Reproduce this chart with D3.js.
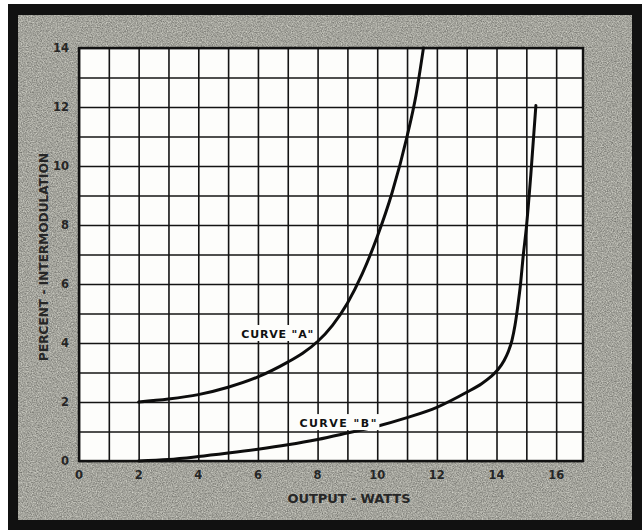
<!DOCTYPE html>
<html>
<head>
<meta charset="utf-8">
<script src="https://cdn.jsdelivr.net/npm/d3@7"></script>
<style>
  html, body { margin: 0; padding: 0; background: #fff; }
  svg { display: block; }
  text { font-family: "DejaVu Sans", sans-serif; font-weight: bold; fill: #262626; }
</style>
</head>
<body>
<div class="vis"></div>
<script>
    // values
    const xTicks = [0, 2, 4, 6, 8, 10, 12, 14, 16];
    const yTicks = [0, 2, 4, 6, 8, 10, 12, 14];

    const curveAx = [2, 3, 4, 5, 6, 7, 7.5, 8, 8.5, 9, 9.5, 10, 10.5, 11, 11.3, 11.55];
    const curveAy = [2.0, 2.1, 2.25, 2.5, 2.85, 3.35, 3.65, 4.05, 4.6, 5.35, 6.35, 7.6, 9.1, 11.0, 12.4, 14.0];

    const curveBx = [2, 3, 4, 5, 6, 7, 8, 9, 10, 11, 12, 13, 13.5, 13.8, 14.05, 14.25, 14.4, 14.52, 14.62, 14.72, 14.8, 14.9, 15.0, 15.15, 15.32];
    const curveBy = [0, 0.05, 0.15, 0.27, 0.4, 0.55, 0.73, 0.95, 1.18, 1.47, 1.82, 2.33, 2.62, 2.85, 3.1, 3.4, 3.72, 4.1, 4.6, 5.3, 5.95, 7.0, 7.9, 9.7, 12.05];

    const dimensions = {
        width: 642,
        height: 530,
        plot: { left: 79, right: 583, top: 48, bottom: 461 }
    };

    const svg = d3.select(".vis").append("svg")
        .attr("width", dimensions.width)
        .attr("height", dimensions.height);

    // paper grain, limited to the grey card
    const card = { x: 18, y: 15, w: 614, h: 505 };
    const defs = svg.append("defs");
    const grain = defs.append("filter")
        .attr("id", "grain")
        .attr("filterUnits", "userSpaceOnUse")
        .attr("color-interpolation-filters", "sRGB")
        .attr("x", card.x).attr("y", card.y)
        .attr("width", card.w).attr("height", card.h);
    grain.append("feTurbulence")
        .attr("type", "fractalNoise")
        .attr("baseFrequency", 0.8)
        .attr("numOctaves", 2)
        .attr("seed", 7);
    grain.append("feColorMatrix")
        .attr("type", "matrix")
        .attr("values", "0.5 0 0 0 0.39  0.5 0 0 0 0.39  0.48 0 0 0 0.37  0 0 0 0 1");

    svg.append("rect")
        .attr("x", 8).attr("y", 4)
        .attr("width", 634).attr("height", 526)
        .attr("fill", "#111");

    svg.append("rect")
        .attr("x", card.x).attr("y", card.y)
        .attr("width", card.w).attr("height", card.h)
        .attr("fill", "#a7a79f")
        .attr("filter", "url(#grain)");

    const p = dimensions.plot;

    const x = d3.scaleLinear()
        .domain([0, 16.9])
        .range([p.left, p.right]);

    const y = d3.scaleLinear()
        .domain([0, 14])
        .range([p.bottom, p.top]);

    svg.append("rect")
        .attr("x", p.left).attr("y", p.top)
        .attr("width", p.right - p.left).attr("height", p.bottom - p.top)
        .attr("fill", "#fdfdfb");

    // grid, one line per unit
    const gx = svg.append("g")
        .attr("transform", `translate(0,${p.bottom})`)
        .call(d3.axisBottom(x).tickValues(d3.range(0, 17)).tickSize(-(p.bottom - p.top)).tickFormat(""));
    const gy = svg.append("g")
        .attr("transform", `translate(${p.left},0)`)
        .call(d3.axisLeft(y).tickValues(d3.range(0, 15)).tickSize(-(p.right - p.left)).tickFormat(""));
    [gx, gy].forEach(g => {
        g.select(".domain").remove();
        g.selectAll("line").attr("stroke", "#141414").attr("stroke-width", 1.6);
    });

    svg.append("rect")
        .attr("x", p.left).attr("y", p.top)
        .attr("width", p.right - p.left).attr("height", p.bottom - p.top)
        .attr("fill", "none")
        .attr("stroke", "#111")
        .attr("stroke-width", 2.4);

    // tick labels
    svg.append("g").selectAll("text")
        .data(xTicks)
        .enter().append("text")
        .attr("x", d => x(d))
        .attr("y", p.bottom + 18)
        .attr("text-anchor", "middle")
        .style("font-size", "11.5px")
        .text(d => d);

    svg.append("g").selectAll("text")
        .data(yTicks)
        .enter().append("text")
        .attr("x", p.left - 10)
        .attr("y", d => y(d) + 4)
        .attr("text-anchor", "end")
        .style("font-size", "11.5px")
        .text(d => d);

    // axis titles
    svg.append("text")
        .attr("x", 349)
        .attr("y", 503)
        .attr("text-anchor", "middle")
        .attr("textLength", 123)
        .style("font-size", "13px")
        .text("OUTPUT - WATTS");

    svg.append("text")
        .attr("transform", "translate(48,257) rotate(-90)")
        .attr("text-anchor", "middle")
        .attr("textLength", 208)
        .style("font-size", "12px")
        .text("PERCENT - INTERMODULATION");

    // curves
    const line = d3.line()
        .x(d => x(d[0]))
        .y(d => y(d[1]))
        .curve(d3.curveMonotoneX);

    const curves = [
        d3.zip(curveAx, curveAy),
        d3.zip(curveBx, curveBy)
    ];

    svg.append("g").selectAll("path")
        .data(curves)
        .enter().append("path")
        .attr("d", line)
        .attr("fill", "none")
        .attr("stroke", "#0d0d0d")
        .attr("stroke-width", 3)
        .attr("stroke-linecap", "round");

    // curve labels sit on white knock-outs like the original
    const labels = [
        { text: 'CURVE "A"', x: 5.44, y: 4.17, w: 72 },
        { text: 'CURVE "B"', x: 7.39, y: 1.15, w: 77 }
    ];
    labels.forEach(l => {
        svg.append("rect")
            .attr("x", x(l.x) - 3).attr("y", y(l.y) - 13)
            .attr("width", l.w + 6).attr("height", 16)
            .attr("fill", "#fdfdfb");
        svg.append("text")
            .attr("x", x(l.x))
            .attr("y", y(l.y))
            .attr("textLength", l.w)
            .style("font-size", "11px")
            .style("fill", "#111")
            .text(l.text);
    });
</script>
</body>
</html>
